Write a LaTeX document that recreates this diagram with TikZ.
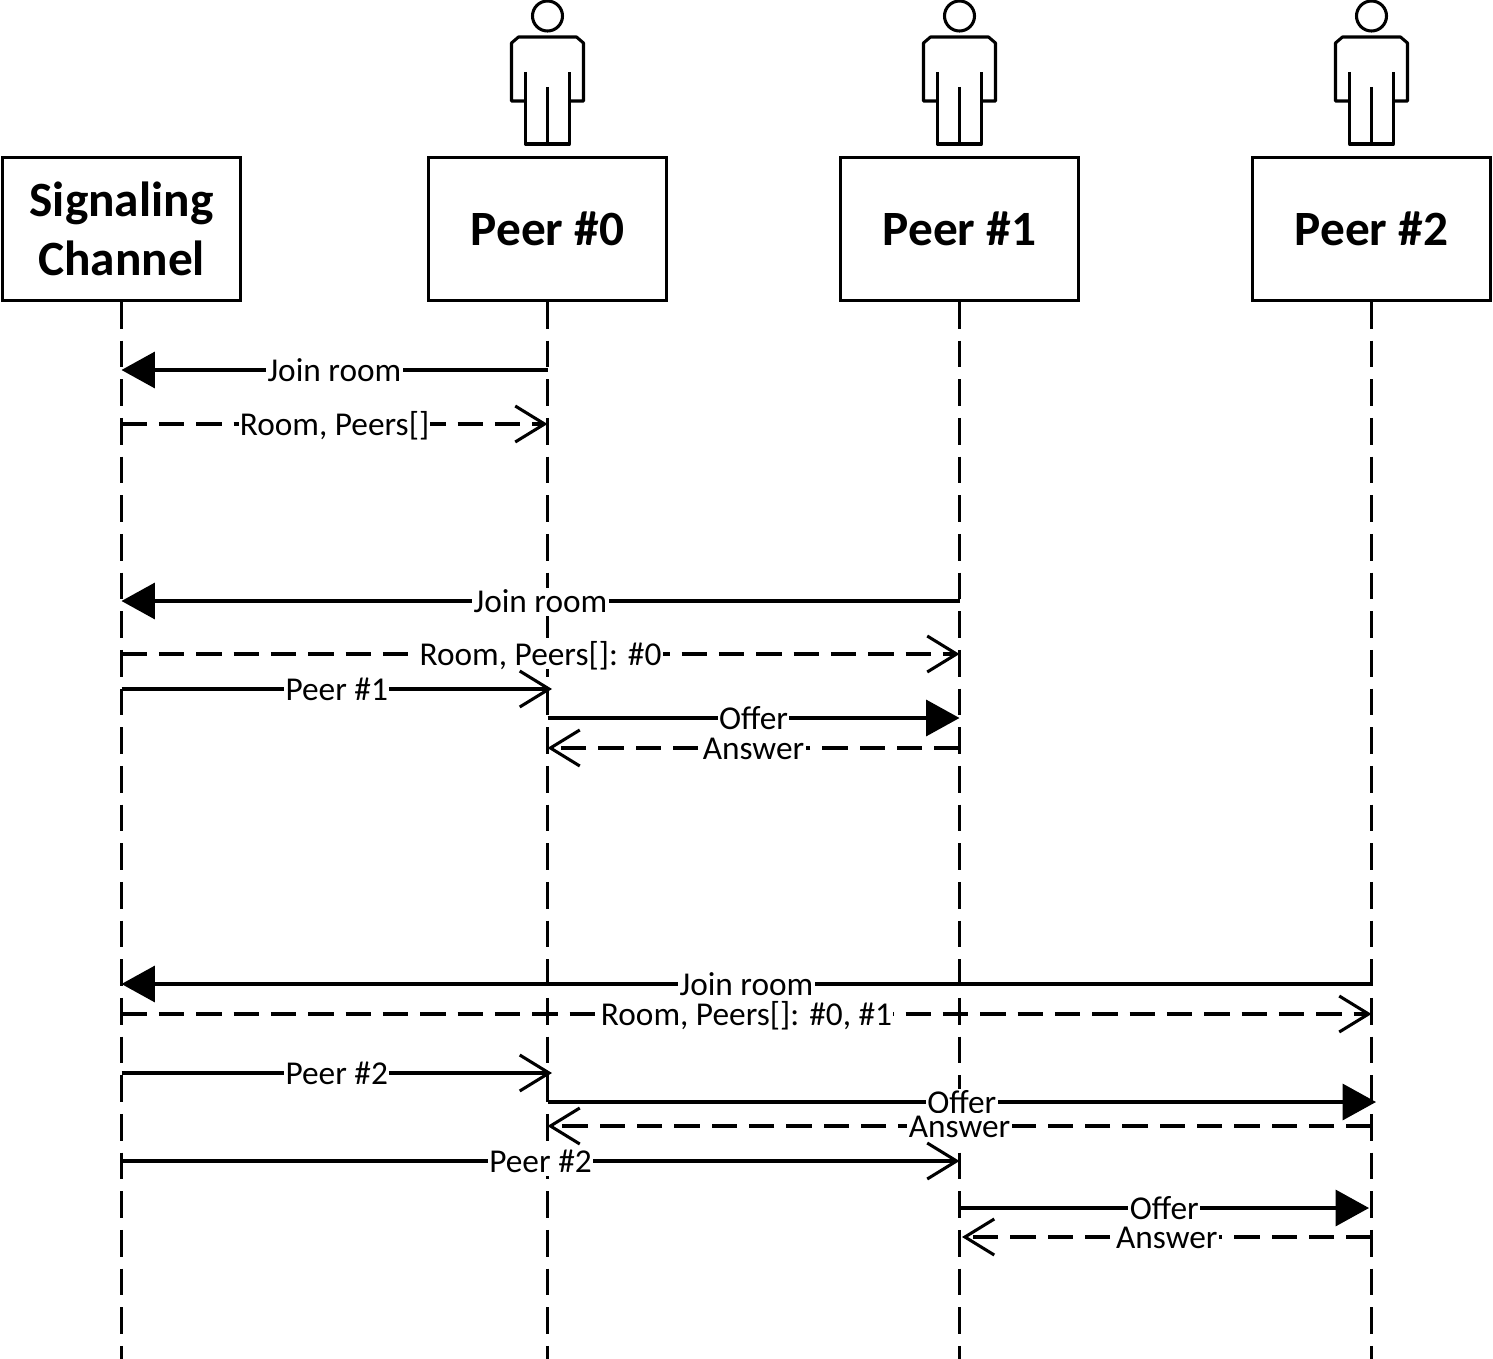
\documentclass[tikz,border=0pt]{standalone}
\usepackage{fontspec}
\setmainfont{Carlito}
\usetikzlibrary{arrows.meta,positioning}
\tikzset{
  box node/.style={draw,line width=2.4pt,minimum width=178pt,minimum height=107pt,inner sep=0pt,align=center,font=\fontsize{37}{44}\selectfont\bfseries},
  life line/.style={line width=2.2pt,dash pattern=on 20pt off 9pt},
  call/.style={line width=2.3pt,-{Triangle[length=25pt,width=27pt]}},
  push/.style={line width=2.3pt,-{Straight Barb[length=22pt,width=27pt,line width=2.3pt]}},
  reply/.style={push,dash pattern=on 19pt off 9pt},
  msg label/.style={fill=white,inner xsep=1pt,inner ysep=2.5pt,text height=16pt,text depth=0pt,yshift=-.6pt,font=\fontsize{25}{25}\selectfont},
  actor/.pic={
    \draw[line width=2.3pt] (0,-213) circle (15);
    \draw[line width=2.3pt,line join=round] (-22,-157) -- (-22,-85) -- (22,-85) -- (22,-157);
    \draw[line width=2.3pt,line join=round] (-22,-128) -- (-36,-128) -- (-36,-186) -- (-29,-192) -- (29,-192) -- (36,-186) -- (36,-128) -- (22,-128);
    \draw[line width=2.3pt] (0,-142) -- (0,-85);
  }
}
\begin{document}
\begin{tikzpicture}[x=.75pt,y=-.75pt]
\useasboundingbox (0,0) rectangle (1493,1359);
\node[box node] (sc) at (121.5,229) {Signaling\\Channel};
\node[box node] (pa) at (547.5,229) {Peer \#0};
\node[box node] (pb) at (959.5,229) {Peer \#1};
\node[box node] (pc) at (1371.5,229) {Peer \#2};
\pic at (pa) {actor};
\pic at (pb) {actor};
\pic at (pc) {actor};
% lifelines
\coordinate (sc end) at (121.5,1359);
\coordinate (pa end) at (547.5,1359);
\coordinate (pb end) at (959.5,1359);
\coordinate (pc end) at (1371.5,1359);
\draw[life line] (sc) -- (sc end);
\draw[life line] (pa) -- (pa end);
\draw[life line] (pb) -- (pb end);
\draw[life line] (pc) -- (pc end);
% peer 0 joins
\coordinate (sc1) at (121.5,370);
\coordinate (pa1) at (547.5,370);
\coordinate (sc2) at (121.5,424);
\coordinate (pa2) at (547.5,424);
\draw[call] (pa1) -- node[msg label] (l1) {Join room} (sc1);
\draw[reply] (sc2) -- node[msg label] (l2) {Room, Peers[]} (pa2);
% peer 1 joins
\coordinate (sc3) at (121.5,601);
\coordinate (pb3) at (959.5,601);
\coordinate (sc4) at (121.5,654);
\coordinate (pb4) at (959.5,654);
\coordinate (sc5) at (121.5,689);
\coordinate (pa5) at (552,689);
\coordinate (pa6) at (547.5,718);
\coordinate (pb6) at (959.5,718);
\coordinate (pb7) at (959.5,748);
\coordinate (pa7) at (547.5,748);
\draw[call] (pb3) -- node[msg label] (l3) {Join room} (sc3);
\draw[reply] (sc4) -- node[msg label] (l4) {Room, Peers[]: \#0} (pb4);
\draw[push] (sc5) -- node[msg label] (l5) {Peer \#1} (pa5);
\draw[call] (pa6) -- node[msg label] (l6) {Offer} (pb6);
\draw[reply] (pb7) -- node[msg label] (l7) {Answer} (pa7);
% peer 2 joins
\coordinate (pc8) at (1371.5,984);
\coordinate (sc8) at (121.5,984);
\coordinate (sc9) at (121.5,1014);
\coordinate (pc9) at (1371.5,1014);
\coordinate (sc10) at (121.5,1073);
\coordinate (pa10) at (552,1073);
\coordinate (pa11) at (547.5,1102);
\coordinate (pc11) at (1376,1102);
\coordinate (pc12) at (1371.5,1126);
\coordinate (pa12) at (547.5,1126);
\coordinate (sc13) at (121.5,1161);
\coordinate (pb13) at (959.5,1161);
\coordinate (pb14) at (959.5,1208);
\coordinate (pc14) at (1369,1208);
\coordinate (pc15) at (1371.5,1237);
\coordinate (pb15) at (962,1237);
\draw[call] (pc8) -- node[msg label] (l8) {Join room} (sc8);
\draw[reply] (sc9) -- node[msg label] (l9) {Room, Peers[]: \#0, \#1} (pc9);
\draw[push] (sc10) -- node[msg label] (l10) {Peer \#2} (pa10);
\draw[call] (pa11) -- node[msg label] (l11) {Offer} (pc11);
\draw[reply] (pc12) -- node[msg label] (l12) {Answer} (pa12);
\draw[push] (sc13) -- node[msg label] (l13) {Peer \#2} (pb13);
\draw[call] (pb14) -- node[msg label] (l14) {Offer} (pc14);
\draw[reply] (pc15) -- node[msg label] (l15) {Answer} (pb15);
\end{tikzpicture}
\end{document}
